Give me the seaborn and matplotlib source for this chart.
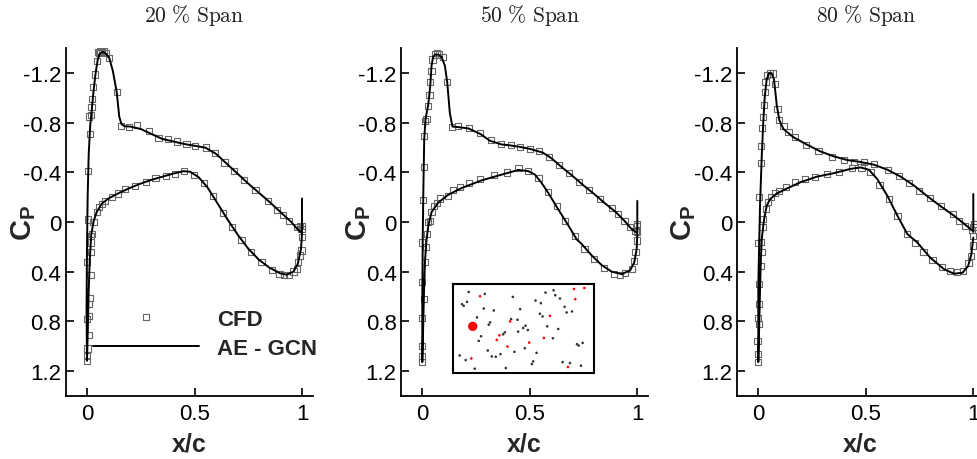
import numpy as np
import pandas as pd
import matplotlib
matplotlib.use("Agg")
import matplotlib.pyplot as plt
import seaborn as sns
from matplotlib.font_manager import FontProperties

# ---------------- data ----------------
span_titles = ["20 % Span", "50 % Span", "80 % Span"]

# 20 % span
cfd20_up_x = [0.006, 0.006, 0.014, 0.011, 0.018, 0.0205, 0.025, 0.0295, 0.037, 0.045, 0.05, 0.056, 0.063, 0.071, 0.078,
              0.087, 0.104, 0.138, 0.157, 0.195, 0.234, 0.288, 0.333, 0.375, 0.417, 0.463, 0.504, 0.552, 0.597,
              0.64, 0.684, 0.73, 0.784, 0.842, 0.882, 0.913, 0.941, 0.975, 0.999]
cfd20_up_cp = [-0.02, -0.41, -0.71, -0.85, -0.86, -0.925, -0.99, -1.086, -1.19, -1.30, -1.37, -1.36, -1.38, -1.373, -1.38,
               -1.36, -1.32, -1.046, -0.777, -0.764, -0.782, -0.736, -0.677, -0.669, -0.65, -0.629, -0.615, -0.60, -0.554,
               -0.48, -0.411, -0.34, -0.258, -0.167, -0.099, -0.056, -0.01, 0.043, 0.03]
cfd20_lo_x = [0.0, 0.0, 0.002, 0.008, 0.0, 0.008, 0.013, 0.008, 0.016, 0.0, 0.019, 0.019, 0.025, 0.017, 0.03, 0.0465,
              0.057, 0.068, 0.083, 0.118, 0.143, 0.176, 0.223, 0.274, 0.319, 0.367, 0.41, 0.452, 0.497, 0.544, 0.587,
              0.634, 0.676, 0.719, 0.763, 0.812, 0.862, 0.895, 0.916, 0.941, 0.96, 0.975, 0.983, 0.99, 0.998, 1.0,
              0.998, 0.99]
cfd20_lo_cp = [1.12, 1.08, 1.02, 0.91, 0.78, 0.755, 0.61, 0.66, 0.43, 0.325, 0.245, 0.165, 0.097, 0.11, 0.0, -0.078,
               -0.118, -0.145, -0.17, -0.203, -0.23, -0.263, -0.29, -0.325, -0.354, -0.368, -0.39, -0.41, -0.38, -0.317,
               -0.21, -0.07, 0.04, 0.145, 0.245, 0.325, 0.387, 0.419, 0.425, 0.425, 0.40, 0.379, 0.325, 0.27, 0.23,
               0.12, 0.056, 0.03]
ae20_x = [1.0, 1.0, 0.98, 0.95, 0.9, 0.85, 0.8, 0.75, 0.7, 0.65, 0.6, 0.55, 0.5, 0.45, 0.4, 0.35, 0.3, 0.25, 0.2, 0.175,
          0.16, 0.15, 0.138, 0.12, 0.104, 0.09, 0.075, 0.06, 0.05, 0.04, 0.03, 0.022, 0.015, 0.008, 0.003, 0.0, -0.002,
          0.0, 0.004, 0.008, 0.013, 0.02, 0.03, 0.045, 0.07, 0.1, 0.15, 0.2, 0.25, 0.3, 0.35, 0.4, 0.45, 0.48, 0.52,
          0.56, 0.6, 0.65, 0.7, 0.75, 0.8, 0.85, 0.9, 0.93, 0.96, 0.98, 0.995, 1.0]
ae20_cp = [-0.19, 0.09, 0.06, 0.0, -0.08, -0.16, -0.235, -0.31, -0.39, -0.47, -0.55, -0.6, -0.615, -0.63, -0.65, -0.67,
           -0.71, -0.75, -0.77, -0.772, -0.79, -0.85, -1.05, -1.22, -1.32, -1.355, -1.372, -1.36, -1.31, -1.2, -1.05,
           -0.9, -0.78, -0.55, -0.2, 0.2, 0.7, 1.12, 0.85, 0.55, 0.3, 0.1, 0.0, -0.08, -0.15, -0.19, -0.235, -0.275,
           -0.31, -0.34, -0.365, -0.39, -0.41, -0.405, -0.36, -0.28, -0.17, -0.03, 0.1, 0.215, 0.305, 0.37, 0.415,
           0.425, 0.4, 0.34, 0.22, 0.1]

# 50 % span
cfd50_up_x = [0.005, 0.0093, 0.0093, 0.012, 0.02, 0.028, 0.033, 0.037, 0.043, 0.047, 0.059, 0.068, 0.079, 0.098, 0.116,
              0.137, 0.167, 0.217, 0.27, 0.32, 0.366, 0.413, 0.456, 0.5, 0.544, 0.591, 0.637, 0.684, 0.73, 0.775,
              0.826, 0.881, 0.909, 0.94, 0.966, 0.992, 1.0]
cfd50_up_cp = [-0.18, -0.446, -0.696, -0.815, -0.83, -0.938, -1.024, -1.126, -1.22, -1.31, -1.35, -1.36, -1.35, -1.333,
               -1.126, -0.769, -0.776, -0.755, -0.718, -0.661, -0.629, -0.62, -0.607, -0.589, -0.575, -0.527, -0.462,
               -0.393, -0.325, -0.26, -0.185, -0.113, -0.065, -0.011, 0.043, 0.07, 0.016]
cfd50_lo_x = [0.0, -0.003, -0.003, 0.0, 0.008, 0.0, 0.013, 0.017, -0.003, 0.023, 0.028, 0.036, 0.043, 0.056, 0.067,
              0.082, 0.118, 0.144, 0.175, 0.218, 0.268, 0.333, 0.395, 0.447, 0.493, 0.54, 0.583, 0.625, 0.664, 0.71,
              0.754, 0.798, 0.846, 0.89, 0.919, 0.943, 0.974, 0.986, 0.992, 0.997, 1.0, 1.0]
cfd50_lo_cp = [1.13, 1.08, 1.0, 0.774, 0.621, 0.486, 0.325, 0.2, 0.165, 0.097, 0.0, -0.01, -0.078, -0.13, -0.156, -0.19,
               -0.21, -0.258, -0.285, -0.312, -0.347, -0.379, -0.40, -0.433, -0.414, -0.352, -0.245, -0.126, -0.01,
               0.11, 0.218, 0.298, 0.371, 0.419, 0.425, 0.414, 0.379, 0.312, 0.245, 0.083, 0.03, 0.15]
ae50_x = [1.0, 1.0, 0.97, 0.94, 0.9, 0.85, 0.8, 0.75, 0.7, 0.65, 0.6, 0.56, 0.5, 0.45, 0.4, 0.37, 0.315, 0.27, 0.214,
          0.167, 0.14, 0.128, 0.116, 0.105, 0.09, 0.075, 0.059, 0.05, 0.043, 0.037, 0.028, 0.015, 0.009, 0.005, 0.002,
          0.0, 0.0, 0.004, 0.008, 0.013, 0.02, 0.028, 0.043, 0.074, 0.121, 0.183, 0.276, 0.369, 0.447, 0.493, 0.524,
          0.555, 0.586, 0.633, 0.68, 0.718, 0.741, 0.788, 0.834, 0.88, 0.927, 0.966, 0.986, 0.997, 1.0]
ae50_cp = [-0.17, 0.09, 0.05, -0.01, -0.08, -0.15, -0.225, -0.295, -0.37, -0.44, -0.515, -0.56, -0.59, -0.607, -0.62,
           -0.625, -0.655, -0.71, -0.755, -0.765, -0.77, -0.88, -1.126, -1.26, -1.33, -1.35, -1.35, -1.33, -1.26,
           -1.1, -0.95, -0.83, -0.67, -0.27, 0.14, 0.6, 1.13, 0.85, 0.55, 0.3, 0.14, 0.03, -0.08, -0.156, -0.22,
           -0.274, -0.336, -0.382, -0.42, -0.41, -0.382, -0.315, -0.234, -0.1, 0.03, 0.14, 0.177, 0.27, 0.347, 0.4,
           0.42, 0.392, 0.325, 0.218, 0.1]

# 80 % span
cfd80_up_x = [0.003, 0.011, 0.0117, 0.019, 0.0224, 0.0271, 0.0302, 0.0333, 0.0411, 0.0536, 0.069, 0.077, 0.089, 0.096,
              0.117, 0.14, 0.171, 0.221, 0.28, 0.343, 0.397, 0.444, 0.491, 0.538, 0.603, 0.654, 0.701, 0.748, 0.8,
              0.849, 0.904, 0.935, 0.962, 0.993, 1.005]
cfd80_up_cp = [-0.2, -0.476, -0.616, -0.755, -0.844, -0.944, -1.046, -1.132, -1.188, -1.198, -1.198, -1.113, -0.911,
               -0.823, -0.772, -0.723, -0.683, -0.624, -0.575, -0.527, -0.503, -0.486, -0.481, -0.465, -0.422, -0.368,
               -0.315, -0.253, -0.191, -0.132, -0.065, -0.011, 0.03, 0.062, 0.016]
cfd80_lo_x = [0.0, 0.0, -0.004, 0.005, 0.0, 0.005, 0.005, 0.011, 0.019, 0.0, 0.0127, 0.02, 0.0235, 0.0343, 0.0458,
              0.059, 0.077, 0.098, 0.13, 0.171, 0.218, 0.265, 0.32, 0.377, 0.436, 0.48, 0.522, 0.564, 0.608, 0.647,
              0.693, 0.73, 0.768, 0.81, 0.854, 0.891, 0.924, 0.953, 0.978, 0.989, 0.997, 1.0, 1.001]
cfd80_lo_cp = [1.13, 1.065, 0.957, 0.823, 0.774, 0.661, 0.5, 0.353, 0.24, 0.17, 0.164, 0.043, -0.024, -0.105, -0.159,
               -0.2, -0.233, -0.253, -0.285, -0.32, -0.347, -0.366, -0.387, -0.406, -0.433, -0.44, -0.406, -0.30,
               -0.185, -0.05, 0.097, 0.17, 0.239, 0.306, 0.366, 0.392, 0.406, 0.392, 0.333, 0.272, 0.19, 0.11, 0.043]
ae80_x = [1.0, 1.0, 0.997, 0.958, 0.911, 0.849, 0.787, 0.725, 0.662, 0.6, 0.538, 0.475, 0.413, 0.35, 0.288, 0.226,
          0.164, 0.117, 0.098, 0.086, 0.073, 0.062, 0.05, 0.039, 0.03, 0.023, 0.016, 0.008, 0.0, 0.0, 0.004, 0.008,
          0.012, 0.016, 0.027, 0.039, 0.055, 0.086, 0.133, 0.195, 0.273, 0.35, 0.428, 0.475, 0.514, 0.553, 0.6,
          0.647, 0.693, 0.74, 0.8, 0.865, 0.911, 0.95, 0.976, 0.991, 1.0]
ae80_cp = [-0.226, 0.08, 0.07, 0.016, -0.05, -0.126, -0.207, -0.293, -0.366, -0.422, -0.462, -0.484, -0.5, -0.53,
           -0.57, -0.624, -0.683, -0.75, -0.82, -0.94, -1.15, -1.2, -1.2, -1.15, -1.01, -0.8, -0.53, -0.13, 0.51,
           1.13, 0.85, 0.55, 0.3, 0.137, -0.024, -0.13, -0.185, -0.23, -0.27, -0.32, -0.366, -0.393, -0.428, -0.44,
           -0.422, -0.347, -0.212, -0.051, 0.097, 0.166, 0.288, 0.382, 0.417, 0.409, 0.355, 0.26, 0.125]

# inset scatter (inset units)
inset_black_x = [57, 105, 37, 42, 52, 189, 287, 311, 316, 330, 257, 273, 344, 350, 366, 102, 132, 211, 270, 278, 82,
                 184, 203, 121, 117, 227, 220, 234, 292, 325, 165, 160, 205, 94, 87, 309, 381, 386, 398, 114, 152, 126,
                 138, 194, 225, 260, 30, 48, 250, 246, 75, 168, 338, 360, 393]
inset_black_y = [38, 44, 75, 80, 68, 53, 40, 33, 48, 58, 64, 72, 83, 100, 97, 88, 94, 90, 104, 112, 115, 120, 122, 130,
                 137, 140, 147, 153, 142, 150, 160, 166, 158, 172, 186, 178, 196, 200, 192, 215, 226, 233, 234, 219,
                 208, 222, 230, 244, 248, 256, 270, 268, 250, 253, 261]
inset_red_x = [91, 372, 403, 376, 300, 181, 149, 141, 238, 282, 173, 65, 354]
inset_red_y = [51, 29, 26, 60, 110, 127, 169, 183, 191, 177, 203, 239, 265]
inset_big_x = [69]
inset_big_y = [142]

ytick_vals = [-1.2, -0.8, -0.4, 0, 0.4, 0.8, 1.2]
ytick_labels = ["-1.2", "-0.8", "-0.4", "0", "0.4", "0.8", "1.2"]
xtick_vals = [0, 0.5, 1]
xtick_labels = ["0", "0.5", "1"]

# ---------------- style ----------------
sns.set_style("ticks")
plt.rcParams["font.family"] = ["Liberation Sans", "DejaVu Sans"]
plt.rcParams["mathtext.fontset"] = "custom"
plt.rcParams["mathtext.bf"] = "Liberation Sans:bold"
plt.rcParams["mathtext.rm"] = "Liberation Sans"
plt.rcParams["mathtext.it"] = "Liberation Sans:italic"

W, H = 977, 460
fig = plt.figure(figsize=(W / 100, H / 100), dpi=100)

xmin, xmax = -0.1, 1.05
ax_lefts_px = [65.5, 400.8, 736.8]
ylabel_pads = [-10.5, -10.5, -3]
ax_w_px = 247.25
ax_top_px, ax_bot_px = 49.4, 396.6

panels = [
    (cfd20_up_x, cfd20_up_cp, cfd20_lo_x, cfd20_lo_cp, ae20_x, ae20_cp),
    (cfd50_up_x, cfd50_up_cp, cfd50_lo_x, cfd50_lo_cp, ae50_x, ae50_cp),
    (cfd80_up_x, cfd80_up_cp, cfd80_lo_x, cfd80_lo_cp, ae80_x, ae80_cp),
]

for i, (ux, ucp, lx, lcp, ax_x, ax_cp) in enumerate(panels):
    ax = fig.add_axes([ax_lefts_px[i] / W, 1 - ax_bot_px / H, ax_w_px / W, (ax_bot_px - ax_top_px) / H])
    cfd = pd.DataFrame({"x": ux + lx, "cp": ucp + lcp})
    ae = pd.DataFrame({"x": ax_x, "cp": ax_cp})
    sns.scatterplot(data=cfd, x="x", y="cp", ax=ax, marker="s", s=20, facecolor="none",
                    edgecolor="#666666", linewidth=0.8, zorder=2, label="CFD", legend=False)
    sns.lineplot(data=ae, x="x", y="cp", ax=ax, sort=False, estimator=None, color="black",
                 linewidth=1.4, zorder=3, label="AE - GCN", legend=False)
    ax.set_xlim(xmin, xmax)
    ax.set_ylim(1.4, -1.4)
    ax.set_xticks(xtick_vals)
    ax.set_xticklabels(xtick_labels)
    ax.set_yticks(ytick_vals)
    ax.set_yticklabels(ytick_labels)
    ax.tick_params(direction="in", length=6, width=1.2, labelsize=16, colors="black")
    ax.tick_params(axis="x", pad=5)
    ax.tick_params(axis="y", pad=3)
    for s in ["top", "right"]:
        ax.spines[s].set_visible(False)
    for s in ["left", "bottom"]:
        ax.spines[s].set_linewidth(1.3)
        ax.spines[s].set_color("black")
    ax.set_xlabel("x/c", fontsize=18, fontweight="bold", labelpad=6)
    ax.set_ylabel(r"$\mathbf{C_P}$", fontsize=21, labelpad=ylabel_pads[i])
    tx = (0.5 - xmin) / (xmax - xmin)
    ax.set_title(r"$\mathrm{" + span_titles[i].replace(" ", r"\ ").replace("%", r"\%") + "}$",
                 x=tx, pad=20, fontsize=15.5, math_fontfamily="cm", color="#222222")
    ax.grid(False)
    if i == 0:
        handles, labels = ax.get_legend_handles_labels()
        leg = ax.legend(handles=handles, labels=labels, loc="upper left", bbox_to_anchor=(0.11, 0.25),
                        frameon=False, handlelength=4.8, handletextpad=0.8, labelspacing=0.35,
                        borderpad=0, borderaxespad=0, scatterpoints=1, scatteryoffsets=[0.5],
                        prop=FontProperties(family="Liberation Sans", weight="bold", size=16))

# inset
ins = fig.add_axes([453 / W, 1 - 374 / H, 141 / W, 89 / H])
sns.scatterplot(x=inset_black_x, y=inset_black_y, ax=ins, s=3.5, color="#333333", edgecolor="none", legend=False)
sns.scatterplot(x=inset_red_x, y=inset_red_y, ax=ins, s=3.5, color="red", edgecolor="none", legend=False)
sns.scatterplot(x=inset_big_x, y=inset_big_y, ax=ins, s=45, color="red", edgecolor="none", legend=False)
ins.set_xlim(10, 432)
ins.set_ylim(283, 14)
ins.set_xticks([])
ins.set_yticks([])
ins.set_xlabel("")
ins.set_ylabel("")
for s in ins.spines.values():
    s.set_visible(True)
    s.set_linewidth(1.5)
    s.set_color("black")

fig.savefig("out.png", dpi=100)
